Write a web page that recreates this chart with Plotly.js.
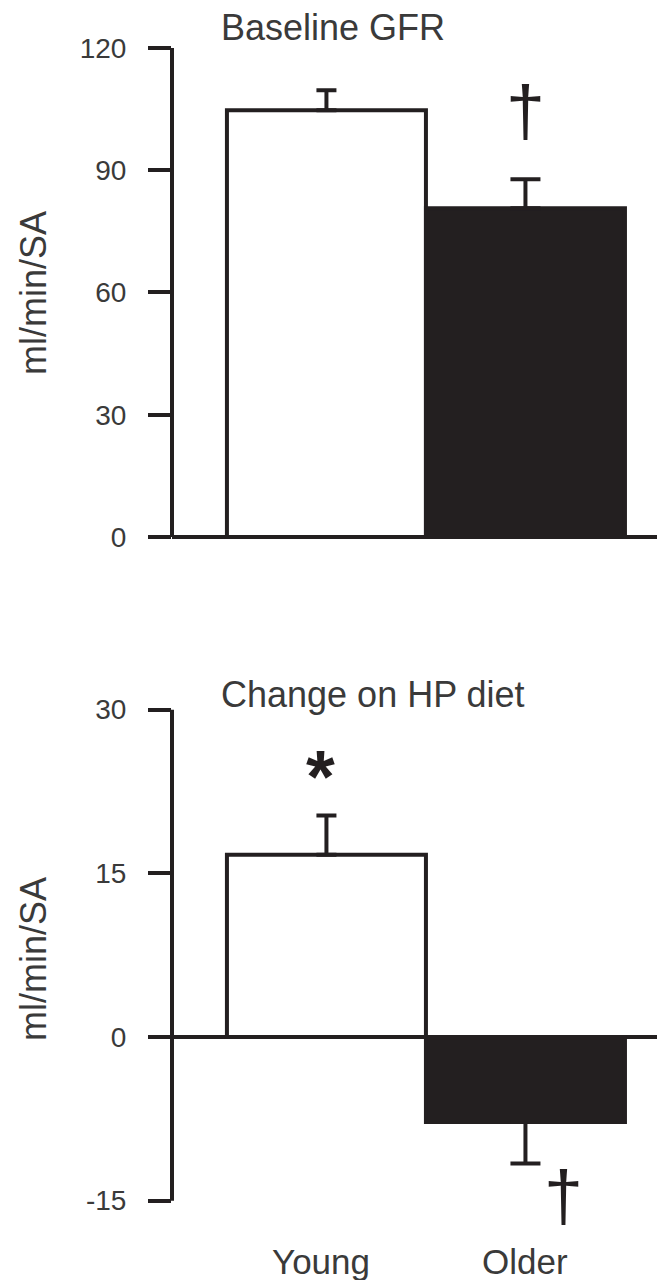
<!DOCTYPE html>
<html>
<head>
<meta charset="utf-8">
<script src="https://cdn.plot.ly/plotly-3.0.1.min.js"></script>
<style>
  html, body { margin: 0; padding: 0; background: #ffffff; }
  #chart { width: 657px; height: 1280px; }
</style>
</head>
<body>
<div id="chart"></div>
<script>
// Groups and measured values (mean and SEM, ml/min/SA)
const groups = ['Young', 'Older'];
const baselineGFR = [104.7, 80.7];
const baselineSEM = [4.9, 7.1];
const changeHP = [16.7, -7.8];
const changeSEM = [3.6, 3.8];

// Axis ticks
const topTicks = [0, 30, 60, 90, 120];
const topTickText = ['0', '30', '60', '90', '120'];
const bottomTicks = [-15, 0, 15, 30];
const bottomTickText = ['-15', '0', '15', '30'];

const INK = '#231f20';
const TEXT = '#3a3a3a';
const FONT = 'Arial, "Liberation Sans", Helvetica, sans-serif';
const fills = ['#ffffff', INK];
const capWidths = [10, 15];

const traces = [];
groups.forEach((g, i) => {
  traces.push({
    type: 'bar', x: [g], y: [baselineGFR[i]], width: 1.0,
    xaxis: 'x', yaxis: 'y',
    marker: { color: fills[i], line: { color: INK, width: 4 } },
    error_y: { type: 'data', symmetric: false, array: [baselineSEM[i]], arrayminus: [0],
               color: INK, thickness: 4, width: capWidths[i] },
    hoverinfo: 'skip', showlegend: false
  });
  const up = changeHP[i] >= 0;
  traces.push({
    type: 'bar', x: [g], y: [changeHP[i]], width: 1.0,
    xaxis: 'x2', yaxis: 'y2',
    marker: { color: fills[i], line: { color: INK, width: 4 } },
    error_y: { type: 'data', symmetric: false,
               array: [up ? changeSEM[i] : 0], arrayminus: [up ? 0 : changeSEM[i]],
               color: INK, thickness: 4, width: capWidths[i] },
    hoverinfo: 'skip', showlegend: false
  });
});

const xCommon = {
  type: 'category', categoryorder: 'array', categoryarray: groups,
  domain: [172 / 657, 1], range: [-0.776, 1.661],
  showline: false, showgrid: false, zeroline: false, ticks: '', fixedrange: true
};

const yCommon = {
  showline: false, showgrid: false, zeroline: true,
  zerolinecolor: INK, zerolinewidth: 4,
  ticks: 'outside', ticklen: 23, tickwidth: 4, tickcolor: INK,
  tickfont: { family: FONT, size: 28, color: TEXT },
  ticklabelstandoff: 16, tickmode: 'array', fixedrange: true
};

const layout = {
  width: 657, height: 1280,
  margin: { l: 0, r: 0, t: 0, b: 0 },
  paper_bgcolor: '#ffffff', plot_bgcolor: 'rgba(0,0,0,0)',
  bargap: 0, showlegend: false,
  font: { family: FONT, color: TEXT },
  xaxis: Object.assign({}, xCommon, { anchor: 'y', showticklabels: false }),
  xaxis2: Object.assign({}, xCommon, {
    anchor: 'y2', showticklabels: false
  }),
  yaxis: Object.assign({}, yCommon, {
    anchor: 'x', domain: [0.57410, 0.96570], range: [-2, 121],
    tickvals: topTicks, ticktext: topTickText
  }),
  yaxis2: Object.assign({}, yCommon, {
    anchor: 'x2', domain: [0.05945, 0.44813], range: [-15.3, 30.3],
    tickvals: bottomTicks, ticktext: bottomTickText
  }),
  shapes: [
    // vertical axis lines spanning the tick range
    { type: 'line', xref: 'x domain', x0: 0, x1: 0, yref: 'y',
      y0: topTicks[0], y1: topTicks[topTicks.length - 1], line: { color: INK, width: 4 } },
    { type: 'line', xref: 'x2 domain', x0: 0, x1: 0, yref: 'y2',
      y0: bottomTicks[0], y1: bottomTicks[bottomTicks.length - 1], line: { color: INK, width: 4 } }
  ],
  annotations: [
    { text: 'Baseline GFR', xref: 'paper', x: 219 / 657, xanchor: 'left',
      yref: 'paper', y: 1 - 27 / 1280, yanchor: 'middle', showarrow: false,
      font: { family: FONT, size: 36, color: TEXT } },
    { text: 'Change on HP diet', xref: 'paper', x: 219 / 657, xanchor: 'left',
      yref: 'paper', y: 1 - 694 / 1280, yanchor: 'middle', showarrow: false,
      font: { family: FONT, size: 36, color: TEXT } },
    { text: 'ml/min/SA', textangle: -90, xref: 'paper', x: 33 / 657, xanchor: 'center',
      yref: 'paper', y: 1 - 293 / 1280, yanchor: 'middle', showarrow: false,
      font: { family: FONT, size: 36, color: TEXT } },
    { text: 'ml/min/SA', textangle: -90, xref: 'paper', x: 33 / 657, xanchor: 'center',
      yref: 'paper', y: 1 - 959 / 1280, yanchor: 'middle', showarrow: false,
      font: { family: FONT, size: 36, color: TEXT } },
    // category labels under the lower panel
    { text: groups[0], xref: 'x2', x: groups[0], xshift: -5, yref: 'paper', y: 1 - 1261 / 1280,
      yanchor: 'middle', showarrow: false, font: { family: FONT, size: 35, color: TEXT } },
    { text: groups[1], xref: 'x2', x: groups[1], yref: 'paper', y: 1 - 1261 / 1280,
      yanchor: 'middle', showarrow: false, font: { family: FONT, size: 35, color: TEXT } },
    // significance markers
    { text: '\u2020', xref: 'x', x: groups[1], yref: 'y', y: baselineGFR[1] + baselineSEM[1],
      yanchor: 'middle', yshift: 68, showarrow: false,
      font: { family: FONT, size: 70, color: INK } },
    { text: '<b>*</b>', xref: 'x2', x: groups[0], yref: 'y2', y: changeHP[0] + changeSEM[0],
      yanchor: 'middle', yshift: 39, xshift: -6, showarrow: false,
      font: { family: FONT, size: 74, color: INK } },
    { text: '\u2020', xref: 'x2', x: groups[1], yref: 'y2', y: changeHP[1] - changeSEM[1],
      yanchor: 'middle', yshift: -32, xshift: 38, showarrow: false,
      font: { family: FONT, size: 70, color: INK } }
  ]
};

Plotly.newPlot('chart', traces, layout, { staticPlot: true, displayModeBar: false });
</script>
</body>
</html>
